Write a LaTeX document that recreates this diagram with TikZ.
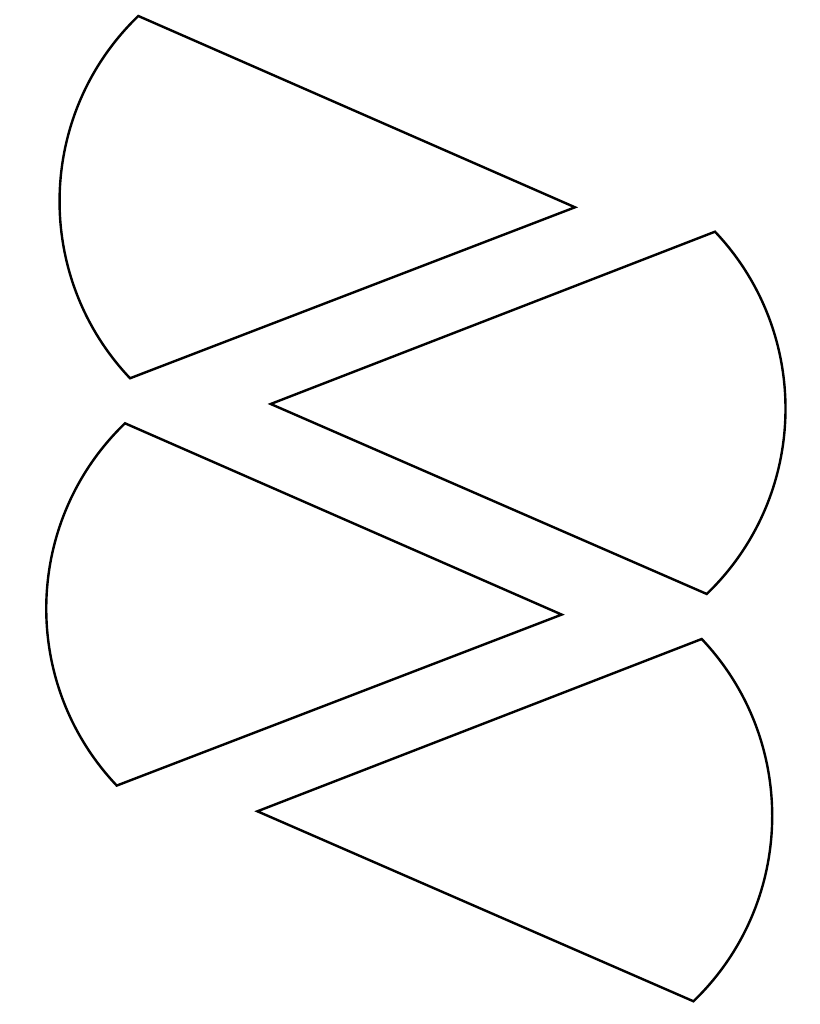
\documentclass[tikz,border=0pt]{standalone}
\begin{document}
\begin{tikzpicture}[x=1pt,y=1pt,
  wedge/.style={draw=black,line width=2.4pt,fill=white,line join=miter}]
\useasboundingbox (0,0) rectangle (819,1024);
% sector 1 (left)
\begin{scope}
\draw[wedge] (575,816.7) -- (138.3,1008) arc[start angle=133.95,end angle=223.44,radius=257.4] -- cycle;
\end{scope}
% sector 3 (left, lower)
\begin{scope}[shift={(-13.3,-407.3)}]
\draw[wedge] (575,816.7) -- (138.3,1008) arc[start angle=133.95,end angle=223.44,radius=257.4] -- cycle;
\end{scope}
% sector 2 (right)
\begin{scope}
\draw[wedge] (270.7,620) -- (715,792.3) arc[start angle=43.44,end angle=-46.05,radius=257.4] -- cycle;
\end{scope}
% sector 4 (right, lower)
\begin{scope}[shift={(-13.3,-407.3)}]
\draw[wedge] (270.7,620) -- (715,792.3) arc[start angle=43.44,end angle=-46.05,radius=257.4] -- cycle;
\end{scope}
\end{tikzpicture}
\end{document}
